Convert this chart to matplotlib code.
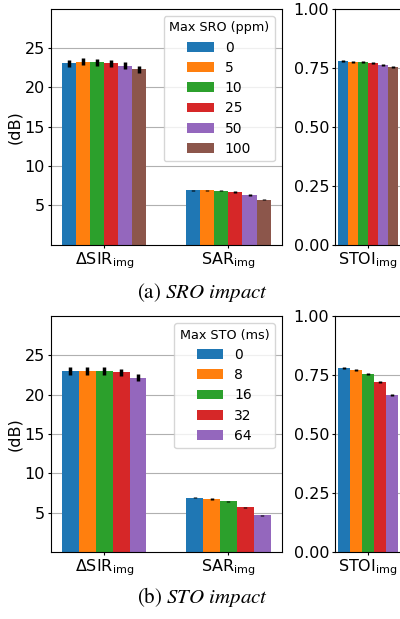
import numpy as np
import matplotlib.pyplot as plt

plt.rcParams['font.size'] = 11.5
plt.rcParams['xtick.major.size'] = 2
plt.rcParams['ytick.major.size'] = 2
plt.rcParams['xtick.major.pad'] = 2.2
plt.rcParams['ytick.major.pad'] = 2.2

metric_labels = [r'$\Delta$SIR$_{\mathrm{img}}$', r'SAR$_{\mathrm{img}}$']
stoi_label = [r'STOI$_{\mathrm{img}}$']
colors = ['#1f77b4', '#ff7f0e', '#2ca02c', '#d62728', '#9467bd', '#8c564b']

# (a) SRO impact
sro_levels = ['0', '5', '10', '25', '50', '100']
sro_sir = [23.05, 23.3, 23.2, 23.05, 22.75, 22.3]
sro_sir_err = [0.5, 0.5, 0.48, 0.48, 0.45, 0.42]
sro_sar = [6.9, 6.9, 6.87, 6.67, 6.32, 5.74]
sro_sar_err = [0.1, 0.1, 0.1, 0.1, 0.1, 0.1]
sro_stoi = [0.778, 0.775, 0.775, 0.770, 0.763, 0.755]
sro_stoi_err = [0.004, 0.004, 0.004, 0.004, 0.004, 0.004]

# (b) STO impact
sto_levels = ['0', '8', '16', '32', '64']
sto_sir = [23.0, 23.0, 23.04, 22.87, 22.2]
sto_sir_err = [0.5, 0.5, 0.5, 0.45, 0.4]
sto_sar = [6.92, 6.73, 6.44, 5.68, 4.65]
sto_sar_err = [0.1, 0.1, 0.1, 0.1, 0.1]
sto_stoi = [0.780, 0.770, 0.756, 0.720, 0.666]
sto_stoi_err = [0.004, 0.004, 0.004, 0.004, 0.005]

GROUP_W = 0.68
ekw = dict(elinewidth=2.5, ecolor='black', capsize=0)

fig = plt.figure(figsize=(4, 6.19), dpi=100)


def panel(bottom, levels, sir, sir_err, sar, sar_err, stoi, stoi_err,
          legend_title, caption, cap_y):
    n = len(levels)
    bw = GROUP_W / n
    ax = fig.add_axes([0.127, bottom, 0.5775, 0.381])
    ax2 = fig.add_axes([0.8375, bottom, 0.165, 0.381])
    centers = np.arange(2)
    for j in range(n):
        off = (j - (n - 1) / 2) * bw
        ax.bar(centers + off, [sir[j], sar[j]], bw, yerr=[sir_err[j], sar_err[j]],
               color=colors[j], label=levels[j], error_kw=ekw, zorder=2)
        ax2.bar([off], [stoi[j]], bw, yerr=[stoi_err[j]], color=colors[j],
                error_kw=ekw, zorder=2)
    ax.set_xlim(-0.43, 1.43)
    ax.set_ylim(0, 30)
    ax.set_yticks([5, 10, 15, 20, 25])
    ax.set_xticks(centers)
    ax.set_xticklabels(metric_labels)
    ax.set_ylabel('(dB)')
    ax.yaxis.set_label_coords(-0.125, 0.5)
    ax.grid(axis='y', color='#b0b0b0', linewidth=0.8)
    ax.set_axisbelow(True)
    ax.legend(title=legend_title, loc='upper right', fontsize=10,
              title_fontsize=9.2, labelspacing=0.45, handlelength=1.9)

    ax2.set_xlim(-0.375, 0.375)
    ax2.set_ylim(0, 1)
    ax2.set_yticks([0, 0.25, 0.5, 0.75, 1.0])
    ax2.set_yticklabels(['0.00', '0.25', '0.50', '0.75', '1.00'])
    ax2.set_xticks([0])
    ax2.set_xticklabels(stoi_label)
    ax2.grid(axis='y', color='#b0b0b0', linewidth=0.8)
    ax2.set_axisbelow(True)

    fig.text(0.506, cap_y, caption, ha='center', va='center', fontsize=15,
             family='STIXGeneral', math_fontfamily='stix')


panel(0.6047, sro_levels, sro_sir, sro_sir_err, sro_sar, sro_sar_err,
      sro_stoi, sro_stoi_err, 'Max SRO (ppm)', r'(a) $\mathit{SRO\ impact}$', 0.528)
panel(0.1082, sto_levels, sto_sir, sto_sir_err, sto_sar, sto_sar_err,
      sto_stoi, sto_stoi_err, 'Max STO (ms)', r'(b) $\mathit{STO\ impact}$', 0.036)

fig.savefig('out.png', dpi=100)
